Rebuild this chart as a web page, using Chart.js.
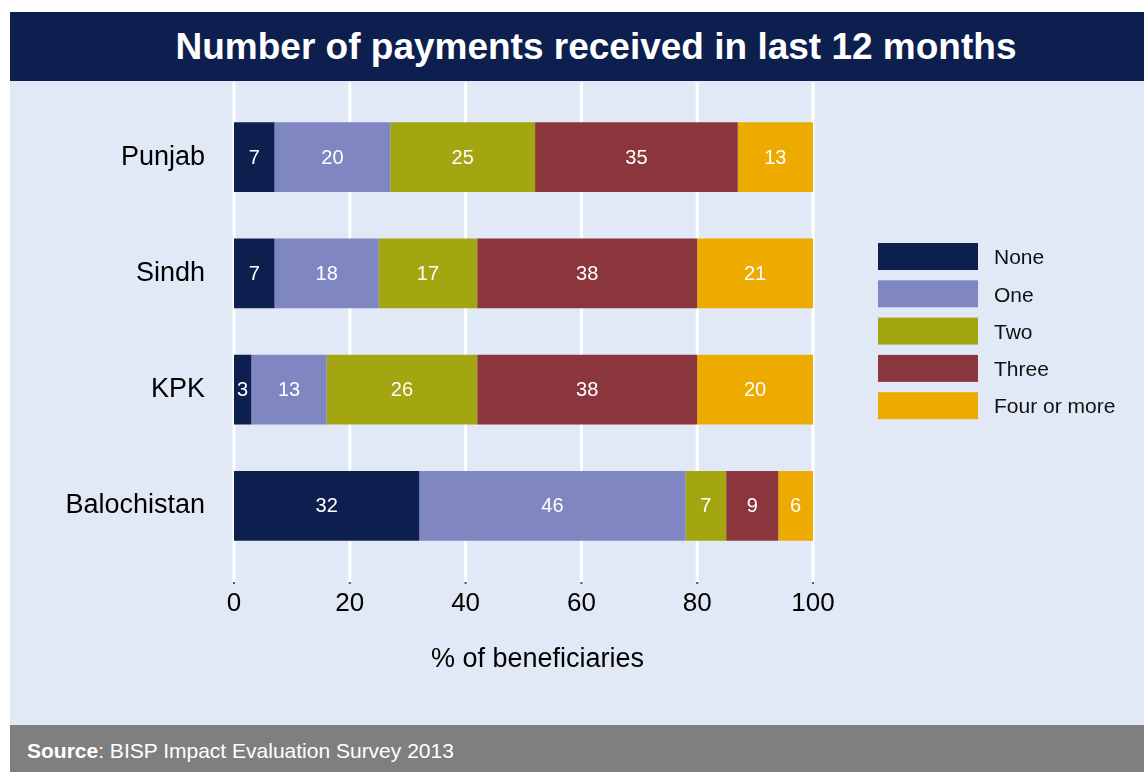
<!DOCTYPE html>
<html>
<head>
<meta charset="utf-8">
<title>Number of payments received in last 12 months</title>
<script src="https://cdn.jsdelivr.net/npm/chart.js@4/dist/chart.umd.min.js"></script>
<style>
  html, body { margin: 0; padding: 0; background: #ffffff; }
  body { width: 1144px; height: 772px; position: relative; overflow: hidden; font-family: "Liberation Sans", Arial, sans-serif; }
  #wrap { position: absolute; left: 10px; top: 12px; width: 1134px; height: 760px; }
  #title { height: 69px; background: #0d1f4f; color: #ffffff; font-weight: bold; font-size: 37px;
           line-height: 69px; text-align: center; padding-left: 38px; box-sizing: border-box; white-space: nowrap; }
  #plot { height: 644px; background: #e1e9f6; position: relative; }
  #plot canvas { display: block; }
  #source { height: 47px; background: #7f7f7f; color: #ffffff; font-size: 21px; line-height: 40px;
            padding: 6px 0 0 17px; box-sizing: border-box; white-space: nowrap; }
</style>
</head>
<body>
<div id="wrap">
  <div id="title">Number of payments received in last 12 months</div>
  <div id="plot"><canvas id="chart" width="1134" height="644"></canvas></div>
  <div id="source"><b>Source</b>: BISP Impact Evaluation Survey 2013</div>
</div>
<script>
// Provinces (one bar each) and the payment-count groups stacked within them
const regions = ['Punjab', 'Sindh', 'KPK', 'Balochistan'];
const groupNames = ['None', 'One', 'Two', 'Three', 'Four or more'];

// Share of beneficiaries (%) by number of payments received
const none     = [7, 7, 3, 32];
const one      = [20, 18, 13, 46];
const two      = [25, 17, 26, 7];
const three    = [35, 38, 38, 9];
const fourPlus = [13, 21, 20, 6];

// Value axis ticks and title
const xTicks = [0, 20, 40, 60, 80, 100];
const xTitle = '% of beneficiaries';

const groupColours = ['#0d1f4f', '#7f86c2', '#a3a511', '#8b353d', '#edab00'];
const FONT = '"Liberation Sans", Arial, sans-serif';

// White vertical grid lines that run past the plotting area, with small tick dots below
const extendedGrid = {
  id: 'extendedGrid',
  beforeDatasetsDraw(chart) {
    const { ctx, chartArea } = chart;
    const xs = chart.scales.x;
    const y1 = chartArea.top - 17;
    const y2 = chartArea.bottom + 18;
    ctx.save();
    xs.ticks.forEach(t => {
      const px = xs.getPixelForValue(t.value);
      ctx.strokeStyle = '#ffffff';
      ctx.lineWidth = 3;
      ctx.beginPath();
      ctx.moveTo(px, y1);
      ctx.lineTo(px, y2);
      ctx.stroke();
      ctx.fillStyle = '#555555';
      ctx.fillRect(px - 1, y2, 2, 2);
    });
    ctx.restore();
  }
};

// Value printed in the middle of each bar segment
const segmentLabels = {
  id: 'segmentLabels',
  afterDatasetsDraw(chart) {
    const { ctx, chartArea } = chart;
    ctx.save();
    ctx.font = '20px ' + FONT;
    ctx.fillStyle = '#ffffff';
    ctx.textAlign = 'center';
    ctx.textBaseline = 'middle';
    chart.data.datasets.forEach((ds, i) => {
      const meta = chart.getDatasetMeta(i);
      meta.data.forEach((el, j) => {
        const end = Math.min(el.x, chartArea.right);
        const cx = (end + el.base) / 2;
        ctx.fillText(String(ds.data[j]), cx, el.y + 1);
      });
    });
    ctx.restore();
  }
};

// Axis title under the value axis, set a little right of the plot centre
const valueAxisTitle = {
  id: 'valueAxisTitle',
  afterDraw(chart) {
    const { ctx, chartArea } = chart;
    ctx.save();
    ctx.font = '27px ' + FONT;
    ctx.fillStyle = '#000000';
    ctx.textAlign = 'center';
    ctx.textBaseline = 'middle';
    ctx.fillText(xTitle, (chartArea.left + chartArea.right) / 2 + 14, chartArea.bottom + 96);
    ctx.restore();
  }
};

// Legend column to the right of the bars
const sideLegend = {
  id: 'sideLegend',
  afterDraw(chart) {
    const { ctx } = chart;
    const boxX = 868, boxW = 100, boxH = 27, top = 162, step = 37.3, textX = 984;
    ctx.save();
    ctx.font = '21px ' + FONT;
    ctx.textAlign = 'left';
    ctx.textBaseline = 'middle';
    chart.data.datasets.forEach((ds, i) => {
      const y = top + i * step;
      ctx.fillStyle = ds.backgroundColor;
      ctx.fillRect(boxX, y, boxW, boxH);
      ctx.fillStyle = '#111111';
      ctx.fillText(ds.label, textX, y + boxH / 2 + 2);
    });
    ctx.restore();
  }
};

const series = [none, one, two, three, fourPlus];

new Chart(document.getElementById('chart'), {
  type: 'bar',
  data: {
    labels: regions,
    datasets: series.map((vals, i) => ({
      label: groupNames[i],
      data: vals,
      backgroundColor: groupColours[i],
      borderWidth: 0,
      barPercentage: 0.6,
      categoryPercentage: 1.0
    }))
  },
  options: {
    indexAxis: 'y',
    responsive: false,
    animation: false,
    devicePixelRatio: 1,
    layout: { padding: { top: 18, right: 331, bottom: 0, left: 0 } },
    plugins: {
      legend: { display: false },
      tooltip: { enabled: false },
      title: { display: false }
    },
    scales: {
      x: {
        type: 'linear',
        stacked: true,
        min: 0,
        max: 100,
        afterBuildTicks: s => { s.ticks = xTicks.map(v => ({ value: v })); },
        afterFit: s => { s.height = 161; },
        grid: { display: false, drawTicks: false },
        border: { display: false },
        ticks: { font: { family: FONT, size: 26 }, color: '#000000', padding: 24 }
      },
      y: {
        type: 'category',
        stacked: true,
        afterFit: s => { s.width = 224; },
        grid: { display: true, drawOnChartArea: false, drawTicks: true, tickLength: 29, color: 'rgba(0,0,0,0)' },
        border: { display: false },
        ticks: { font: { family: FONT, size: 27 }, color: '#000000', padding: 0 }
      }
    }
  },
  plugins: [extendedGrid, segmentLabels, valueAxisTitle, sideLegend]
});
</script>
</body>
</html>
